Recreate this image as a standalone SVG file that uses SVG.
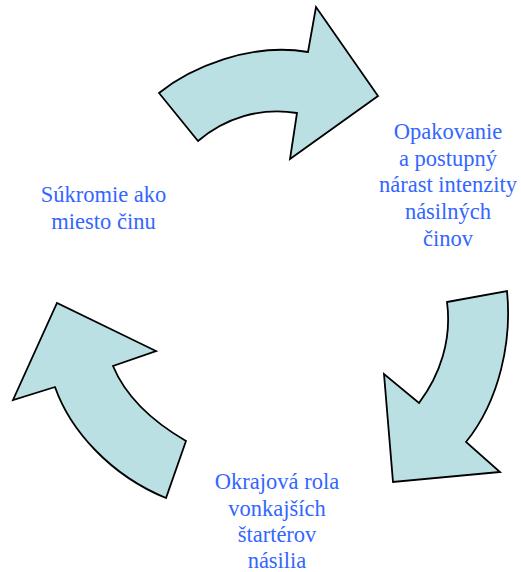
<svg xmlns="http://www.w3.org/2000/svg" width="521" height="572" viewBox="0 0 521 572">
<style>
.arr{fill:#BBE0E3;stroke:#000;stroke-width:1.8;stroke-linejoin:miter}
.t{font-family:"Liberation Serif","Times New Roman",serif;font-size:22.5px;fill:#3366FF;text-anchor:middle}
</style>
<rect width="521" height="572" fill="#fff"/>
<g id="connectors">
<path id="arrow-top" class="arr" d="M159,93 C190,68 250,42 308,52 L316,7 L378,96 L290,159 L297,113 C260,107 225,118 198,141 Z"/>
<path id="arrow-right" class="arr" d="M447,302 L507,291 C512,340 500,400 466,442 L500,472 L393,482 L384,374 L419,403 C440,375 452,340 447,302 Z"/>
<path id="arrow-left" class="arr" d="M166,498 C110,475 70,430 55,387 L13,400 L57,303 L156,351 L113,366 C125,395 150,420 186,441 Z"/>
</g>
<g id="node-right">
<text class="t" x="448" y="138.5">Opakovanie</text>
<text class="t" x="448" y="165.5">a postupný</text>
<text class="t" x="448" y="192">nárast intenzity</text>
<text class="t" x="448" y="219">násilných</text>
<text class="t" x="448" y="246">činov</text>
</g>
<g id="node-left">
<text class="t" x="103.5" y="201.5">Súkromie ako</text>
<text class="t" x="103.5" y="228.5">miesto činu</text>
</g>
<g id="node-bottom">
<text class="t" x="277" y="489">Okrajová rola</text>
<text class="t" x="277" y="515.5">vonkajších</text>
<text class="t" x="277" y="542">štartérov</text>
<text class="t" x="277" y="567.5">násilia</text>
</g>
</svg>
